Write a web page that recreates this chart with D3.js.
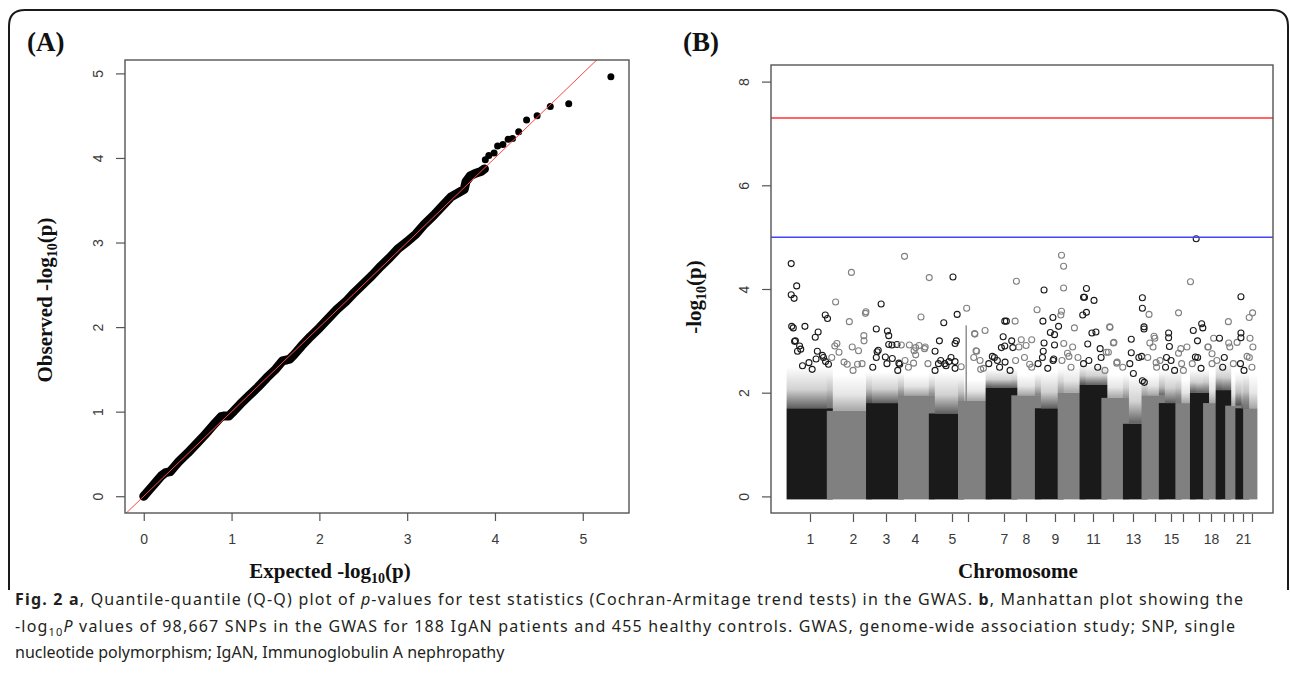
<!DOCTYPE html>
<html>
<head>
<meta charset="utf-8">
<script src="https://cdn.jsdelivr.net/npm/d3@7"></script>
<style>
body { margin: 0; background: #fff; }
svg { display: block; }
.tick text { font-family: "Liberation Sans", Arial, sans-serif; font-size: 14px; fill: #3a3a3a; }
.tick line { stroke: #555; stroke-width: 1.2px; }
.lab { font-family: "Liberation Serif", "Times New Roman", serif; font-weight: bold; font-size: 21px; fill: #111; }
.panel { font-family: "Liberation Serif", "Times New Roman", serif; font-weight: bold; font-size: 27px; fill: #111; }
.cap { font-family: "Noto Sans", sans-serif; font-size: 16px; fill: #231f20; }
</style>
</head>
<body>
<svg id="fig"></svg>
<script>
//Panel A: Q-Q plot.
const qqExpected = [0, 0.05, 0.1, 0.15, 0.2, 0.25, 0.3, 0.35, 0.4, 0.5, 0.6, 0.7, 0.8, 0.88, 0.92, 0.97, 1.0, 1.1, 1.2, 1.3, 1.4, 1.5, 1.58, 1.62, 1.66, 1.7, 1.8, 1.9, 2.0, 2.1, 2.2, 2.3, 2.4, 2.5, 2.6, 2.7, 2.8, 2.9, 3.0, 3.1, 3.2, 3.3, 3.4, 3.5, 3.6, 3.65, 3.67, 3.72, 3.78, 3.84, 3.88,
	3.89, 3.93, 3.99, 4.03, 4.09, 4.15, 4.2, 4.27, 4.36, 4.48, 4.63, 4.84, 5.32];
const qqObserved = [0, 0.06, 0.12, 0.18, 0.24, 0.28, 0.29, 0.35, 0.41, 0.51, 0.62, 0.73, 0.85, 0.94, 0.95, 0.95, 0.98, 1.09, 1.19, 1.29, 1.4, 1.5, 1.6, 1.61, 1.62, 1.66, 1.78, 1.89, 1.99, 2.1, 2.21, 2.3, 2.41, 2.51, 2.61, 2.72, 2.82, 2.93, 3.01, 3.1, 3.22, 3.32, 3.43, 3.54, 3.6, 3.63, 3.72, 3.79, 3.82, 3.84, 3.87,
	3.98, 4.03, 4.06, 4.14, 4.16, 4.22, 4.23, 4.31, 4.45, 4.50, 4.61, 4.64, 4.96];
const qqDenseCount = 51; //points drawn as a continuous band
const qqTicks = [0, 1, 2, 3, 4, 5];

//Panel B: Manhattan plot.
const chrLength = [249.25, 243.20, 198.02, 191.15, 180.92, 171.12, 159.14, 146.36, 141.21, 135.53, 135.01,
	133.85, 115.17, 107.35, 102.53, 90.35, 81.20, 78.08, 59.13, 63.03, 48.13, 51.30]; //Mb
const chrTickPos = [126.5, 393, 597.6, 777.3, 1006.6, 1105.8, 1328.9, 1465.3, 1645, 1762.8, 1880.6,
	2004.5, 2128.5, 2264.8, 2364, 2438.4, 2537.5, 2611.9, 2692.5, 2748.3, 2810.3, 2866]; //cumulative Mb
const chrTickLabels = ['1', '2', '3', '4', '5', '', '7', '8', '9', '', '11', '', '13', '', '15', '', '', '18', '', '', '21', ''];
//Height up to which each chromosome is a solid mass, and where its sparse fringe fades out.
const solidTop = [1.7, 1.65, 1.8, 1.95, 1.6, 1.85, 2.1, 1.95, 1.7, 2.0, 2.15, 1.9, 1.4, 1.95, 1.8, 1.8, 2.0, 1.8, 2.05, 1.75, 1.7, 1.7];
const fringeTop = [2.5, 2.35, 2.4, 2.35, 2.4, 2.25, 2.45, 2.35, 2.4, 2.5, 2.55, 2.35, 2.35, 2.35, 2.45, 2.25, 2.45, 2.35, 2.6, 2.25, 2.4, 2.35];
//chr, from Mb, to Mb, top: the narrow column on chromosome 6.
const spikes = [[6, 28, 36, 3.3]];
//Separate SNPs above the mass: chr, position (Mb), -log10(p).
const hits = [
	[1, 10, 4.49], [1, 44, 4.06], [1, 10, 3.89], [1, 28, 3.82], [1, 13, 3.28], [1, 23, 3.25], [1, 95, 3.28], [1, 31, 2.99], [1, 36, 3.0],
	[1, 62, 2.9], [1, 69, 2.84], [1, 49, 2.8], [1, 221, 3.5], [1, 235, 3.43], [1, 159, 3.07], [1, 177, 3.17], [1, 203, 2.72], [1, 210, 2.68],
	[1, 223, 2.6], [1, 241, 2.55], [1, 172, 2.8], [1, 164, 2.65], [1, 120, 2.58], [1, 140, 2.45], [1, 80, 2.52],
	[2, 36, 3.75], [2, 31, 2.9], [2, 44, 2.95], [2, 121, 3.37], [2, 134, 4.32], [2, 139, 2.88], [2, 108, 2.55], [2, 172, 2.55], [2, 224, 3.56],
	[2, 221, 3.53], [2, 211, 3.1], [2, 57, 2.78], [2, 12, 2.68], [2, 88, 2.59], [2, 144, 2.43], [2, 178, 2.81], [2, 212, 3.0], [2, 200, 2.56],
	[3, 75, 3.71], [3, 45, 3.23], [3, 57, 2.82], [3, 50, 2.79], [3, 114, 3.19], [3, 122, 3.1], [3, 122, 2.93], [3, 142, 2.92], [3, 173, 2.93],
	[3, 101, 2.69], [3, 185, 2.57], [3, 190, 2.55], [3, 23, 2.49], [3, 45, 2.68], [3, 111, 2.56], [3, 144, 2.66], [3, 178, 2.43],
	[4, 2, 2.92], [4, 22, 4.63], [4, 124, 3.46], [4, 52, 2.92], [4, 91, 2.87], [4, 91, 2.73], [4, 78, 2.57], [4, 150, 2.88], [4, 175, 4.22],
	[4, 25, 2.62], [4, 46, 2.49], [4, 81, 2.81], [4, 112, 2.91], [4, 146, 2.85], [4, 167, 2.56],
	[5, 131, 4.23], [5, 157, 3.51], [5, 74, 3.35], [5, 20, 2.8], [5, 47, 3.0], [5, 144, 2.95], [5, 152, 3.0], [5, 41, 2.56], [5, 80, 2.56],
	[5, 106, 2.6], [5, 144, 2.6], [5, 20, 2.43], [5, 55, 2.62], [5, 88, 2.52], [5, 119, 2.68], [5, 144, 2.47],
	[6, 35, 3.63], [6, 86, 3.13], [6, 97, 2.8], [6, 79, 2.68], [6, 149, 3.2], [6, 1, 2.5], [6, 122, 2.45], [6, 93, 2.81], [6, 118, 2.62],
	[6, 139, 2.47], [6, 84, 3.14],
	[7, 100, 3.38], [7, 110, 3.38], [7, 90, 3.08], [7, 79, 2.87], [7, 100, 2.9], [7, 23, 2.7], [7, 36, 2.68], [7, 54, 2.62], [7, 143, 3.0], [7, 150, 2.87],
	[7, 1, 2.56], [7, 68, 2.49], [7, 102, 2.59], [7, 133, 2.43],
	[8, 5, 3.38], [8, 13, 4.15], [8, 141, 3.6], [8, 108, 3.02], [8, 43, 3.02], [8, 95, 2.55], [8, 8, 2.62], [8, 29, 2.88], [8, 63, 2.68],
	[8, 108, 2.49], [8, 73, 2.91],
	[9, 38, 3.98], [9, 31, 3.38], [9, 38, 2.96], [9, 33, 2.8], [9, 77, 3.16], [9, 103, 3.12], [9, 103, 2.92], [9, 98, 2.65], [9, 93, 3.45], [9, 128, 3.28],
	[9, 1, 2.56], [9, 28, 2.68], [9, 61, 2.47], [9, 94, 2.62],
	[10, 5, 4.65], [10, 18, 4.44], [10, 18, 4.02], [10, 5, 3.57], [10, 1, 3.5], [10, 85, 3.25], [10, 51, 2.7], [10, 8, 2.62], [10, 42, 2.76],
	[10, 64, 2.49], [10, 74, 2.88], [10, 107, 2.68], [10, 19, 2.95],
	[11, 24, 4.01], [11, 6, 3.84], [11, 12, 3.84], [11, 71, 3.78], [11, 24, 3.55], [11, 1, 3.5], [11, 58, 3.15], [11, 83, 3.17], [11, 32, 2.94], [11, 109, 2.85],
	[11, 6, 2.56], [11, 39, 2.62], [11, 94, 2.49], [11, 115, 2.68],
	[12, 33, 3.27], [12, 56, 2.96], [12, 12, 2.78], [12, 77, 2.57], [12, 4, 2.43], [12, 25, 2.78], [12, 59, 2.97], [12, 79, 2.59], [12, 114, 2.49], [12, 35, 3.26],
	[13, 102, 3.83], [13, 102, 3.63], [13, 112, 3.27], [13, 112, 3.23], [13, 33, 3.03], [13, 33, 2.77], [13, 97, 2.7], [13, 114, 2.2],
	[13, 24, 2.56], [13, 46, 2.37], [13, 80, 2.68], [13, 102, 2.23],
	[14, 28, 3.51], [14, 33, 2.96], [14, 59, 3.09], [14, 72, 2.58], [14, 20, 2.68], [14, 53, 2.88], [14, 75, 2.49], [14, 96, 2.62], [14, 64, 3.05],
	[15, 42, 3.15], [15, 42, 3.06], [15, 47, 2.89], [15, 29, 2.68], [15, 23, 2.49], [15, 57, 2.62], [15, 79, 2.43],
	[16, 1, 3.54], [16, 15, 2.85], [16, 75, 4.14], [16, 1, 2.76], [16, 20, 2.56], [16, 53, 2.88], [16, 31, 2.43], [16, 86, 2.56],
	[17, 20, 4.97], [17, 2, 3.2], [17, 54, 3.33], [17, 61, 3.25], [17, 28, 3.0], [17, 15, 2.69], [17, 29, 2.68], [17, 50, 2.47],
	[18, 11, 2.88], [18, 37, 2.75], [18, 14, 2.88], [18, 37, 2.56], [18, 47, 3.05], [18, 67, 2.62],
	[19, 5, 3.05], [19, 35, 2.68], [19, 25, 2.49],
	[20, 1, 3.37], [20, 3, 2.96], [20, 10, 2.88], [20, 32, 2.56], [20, 55, 2.97],
	[21, 16, 3.85], [21, 16, 3.15], [21, 16, 3.06], [21, 13, 2.56], [21, 35, 2.43],
	[22, 40, 3.54], [22, 19, 3.45], [22, 24, 3.05], [22, 6, 2.7], [22, 20, 2.68], [22, 36, 2.49], [22, 42, 2.88]
];
const thresholds = [7.3, 5];
const thresholdColors = ['#ff3333', '#4444ff'];
const manTicks = [0, 2, 4, 6, 8];

const width = 1290, height = 683;
const svg = d3.select('#fig').attr('width', width).attr('height', height);

//Outer frame with rounded top corners.
svg.append('path')
	.attr('d', 'M9,590 V26 Q9,10 25,10 H1272 Q1288,10 1288,26 V590')
	.attr('fill', 'none').attr('stroke', '#1a1a1a').attr('stroke-width', 2);

svg.append('text').attr('class', 'panel').attr('x', 27).attr('y', 51).text('(A)');
svg.append('text').attr('class', 'panel').attr('x', 683).attr('y', 51).text('(B)');

//Label with a subscript 10 after "log".
function logLabel(sel, before) {
	sel.append('tspan').text(before + '-log');
	sel.append('tspan').text('10').attr('font-size', '14px').attr('dy', 5);
	sel.append('tspan').text('(p)').attr('dy', -5);
}

function yTicksRotated(g) {
	g.select('.domain').remove();
	g.selectAll('.tick text')
		.attr('x', null).attr('dy', '0.35em')
		.attr('text-anchor', 'middle')
		.attr('transform', 'translate(-27,0) rotate(-90)');
}

//---------- Panel A ----------
const boxA = {left: 125, right: 629, top: 60, bottom: 513};
const xA = d3.scaleLinear().domain([-0.2136, 5.5264]).range([boxA.left, boxA.right]);
const yA = d3.scaleLinear().domain([-0.1984, 5.1584]).range([boxA.bottom, boxA.top]);
const gA = svg.append('g');
svg.append('clipPath').attr('id', 'clipA').append('rect')
	.attr('x', boxA.left).attr('y', boxA.top)
	.attr('width', boxA.right - boxA.left).attr('height', boxA.bottom - boxA.top);

const qq = qqExpected.map((e, i) => [e, qqObserved[i]]);
gA.append('path')
	.datum(qq.slice(0, qqDenseCount))
	.attr('d', d3.line().x(d => xA(d[0])).y(d => yA(d[1])))
	.attr('fill', 'none').attr('stroke', '#000').attr('stroke-width', 9)
	.attr('stroke-linejoin', 'round').attr('stroke-linecap', 'round');
gA.selectAll('circle.qq').data(qq).join('circle')
	.attr('class', 'qq')
	.attr('cx', d => xA(d[0])).attr('cy', d => yA(d[1])).attr('r', 3.5)
	.attr('fill', '#000');
gA.append('line')
	.attr('clip-path', 'url(#clipA)')
	.attr('x1', xA(-0.3)).attr('y1', yA(-0.3)).attr('x2', xA(5.3)).attr('y2', yA(5.3))
	.attr('stroke', '#ff4444').attr('stroke-width', 1);
gA.append('rect')
	.attr('x', boxA.left).attr('y', boxA.top)
	.attr('width', boxA.right - boxA.left).attr('height', boxA.bottom - boxA.top)
	.attr('fill', 'none').attr('stroke', '#555').attr('stroke-width', 1.4);
gA.append('g').attr('transform', `translate(0,${boxA.bottom})`)
	.call(d3.axisBottom(xA).tickValues(qqTicks).tickSize(8).tickPadding(13).tickFormat(d3.format('d')))
	.call(g => g.select('.domain').remove());
gA.append('g').attr('transform', `translate(${boxA.left},0)`)
	.call(d3.axisLeft(yA).tickValues(qqTicks).tickSize(9).tickFormat(d3.format('d')))
	.call(yTicksRotated);
gA.append('text').attr('class', 'lab').attr('text-anchor', 'middle')
	.attr('x', 330).attr('y', 578)
	.call(logLabel, 'Expected ');
gA.append('text').attr('class', 'lab').attr('text-anchor', 'middle')
	.attr('transform', 'translate(52,300) rotate(-90)')
	.call(logLabel, 'Observed ');

//---------- Panel B ----------
const boxB = {left: 771, right: 1273, top: 65, bottom: 513};
const chrStart = d3.cumsum([0].concat(chrLength.slice(0, -1)));
const genome = d3.sum(chrLength);
const xB = d3.scaleLinear().domain([-0.04 * genome, 1.04 * genome]).range([boxB.left, boxB.right]);
const yB = d3.scaleLinear().domain([-0.32, 8.32]).range([boxB.bottom, boxB.top]);
const chrColor = i => (i % 2 === 0 ? '#1a1a1a' : '#808080');
const gB = svg.append('g');

const defs = svg.append('defs');
['#1a1a1a', '#808080'].forEach((c, k) => {
	const gr = defs.append('linearGradient').attr('id', `fade${k}`)
		.attr('x1', 0).attr('y1', 0).attr('x2', 0).attr('y2', 1);
	gr.append('stop').attr('offset', 0).attr('stop-color', c).attr('stop-opacity', 0);
	gr.append('stop').attr('offset', 0.55).attr('stop-color', c).attr('stop-opacity', 0.2);
	gr.append('stop').attr('offset', 1).attr('stop-color', c).attr('stop-opacity', 0.7);
});

const dotR = 3; //radius of the open circles
const chrData = chrLength.map((len, i) => ({i, start: chrStart[i], len, solid: solidTop[i], fringe: fringeTop[i]}));
gB.selectAll('rect.fringe').data(chrData).join('rect')
	.attr('class', 'fringe')
	.attr('x', d => xB(d.start) - dotR).attr('width', d => xB(d.start + d.len) - xB(d.start) + 2 * dotR)
	.attr('y', d => yB(d.fringe)).attr('height', d => yB(d.solid) - yB(d.fringe))
	.attr('fill', d => `url(#fade${d.i % 2})`);
gB.selectAll('rect.solid').data(chrData).join('rect')
	.attr('class', 'solid')
	.attr('x', d => xB(d.start) - dotR).attr('width', d => xB(d.start + d.len) - xB(d.start) + 2 * dotR)
	.attr('y', d => yB(d.solid)).attr('height', d => yB(0) + dotR - yB(d.solid))
	.attr('fill', d => chrColor(d.i));
gB.selectAll('rect.spike').data(spikes).join('rect')
	.attr('class', 'spike')
	.attr('x', d => xB(chrStart[d[0] - 1] + d[1])).attr('width', d => xB(chrStart[d[0] - 1] + d[2]) - xB(chrStart[d[0] - 1] + d[1]))
	.attr('y', d => yB(d[3])).attr('height', d => yB(0) - yB(d[3]))
	.attr('fill', d => chrColor(d[0] - 1));
gB.selectAll('circle.hit').data(hits).join('circle')
	.attr('class', 'hit')
	.attr('cx', d => xB(chrStart[d[0] - 1] + d[1])).attr('cy', d => yB(d[2])).attr('r', dotR)
	.attr('fill', 'none').attr('stroke', d => chrColor(d[0] - 1)).attr('stroke-width', 1.1);
gB.selectAll('line.thr').data(thresholds).join('line')
	.attr('class', 'thr')
	.attr('x1', boxB.left).attr('x2', boxB.right)
	.attr('y1', d => yB(d)).attr('y2', d => yB(d))
	.attr('stroke', (d, i) => thresholdColors[i]).attr('stroke-width', 1.5);
gB.append('rect')
	.attr('x', boxB.left).attr('y', boxB.top)
	.attr('width', boxB.right - boxB.left).attr('height', boxB.bottom - boxB.top)
	.attr('fill', 'none').attr('stroke', '#555').attr('stroke-width', 1.4);
gB.append('g').attr('transform', `translate(0,${boxB.bottom + 1})`)
	.call(d3.axisBottom(xB).tickValues(chrTickPos).tickSize(8).tickPadding(12)
		.tickFormat((d, i) => chrTickLabels[i]))
	.call(g => g.select('.domain').remove());
gB.append('g').attr('transform', `translate(${boxB.left},0)`)
	.call(d3.axisLeft(yB).tickValues(manTicks).tickSize(9).tickFormat(d3.format('d')))
	.call(yTicksRotated);
gB.append('text').attr('class', 'lab').attr('text-anchor', 'middle')
	.attr('x', 1018).attr('y', 578).text('Chromosome');
gB.append('text').attr('class', 'lab').attr('text-anchor', 'middle')
	.attr('transform', 'translate(701,297) rotate(-90)')
	.call(logLabel, '');

//---------- Caption ----------
const cap = svg.append('g').attr('class', 'cap');
const l1 = cap.append('text').attr('x', 15).attr('y', 605).attr('textLength', 1228).attr('lengthAdjust', 'spacing');
l1.append('tspan').attr('font-weight', 'bold').text('Fig. 2 a');
l1.append('tspan').text(', Quantile-quantile (Q-Q) plot of ');
l1.append('tspan').attr('font-style', 'italic').text('p');
l1.append('tspan').text('-values for test statistics (Cochran-Armitage trend tests) in the GWAS. ');
l1.append('tspan').attr('font-weight', 'bold').text('b');
l1.append('tspan').text(', Manhattan plot showing the');
const l2 = cap.append('text').attr('x', 15).attr('y', 632).attr('textLength', 1220).attr('lengthAdjust', 'spacing');
l2.append('tspan').text('-log');
l2.append('tspan').attr('font-size', '11px').attr('dy', 4).text('10');
l2.append('tspan').attr('font-style', 'italic').attr('dy', -4).text('P');
l2.append('tspan').text(' values of 98,667 SNPs in the GWAS for 188 IgAN patients and 455 healthy controls. GWAS, genome-wide association study; SNP, single');
cap.append('text').attr('x', 15).attr('y', 658).text('nucleotide polymorphism; IgAN, Immunoglobulin A nephropathy');
</script>
</body>
</html>
